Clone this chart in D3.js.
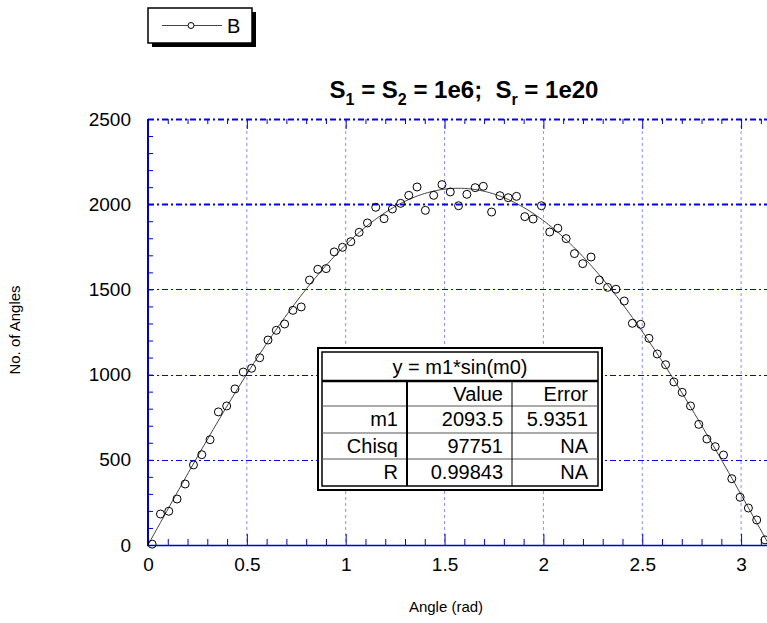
<!DOCTYPE html>
<html>
<head>
<meta charset="utf-8">
<script src="https://cdn.jsdelivr.net/npm/d3@7"></script>
<style>
  body { margin: 0; background: #fff; }
  svg { display: block; font-family: "Liberation Sans", Arial, sans-serif; }
</style>
</head>
<body>
<svg width="767" height="623"></svg>
<script>
// bin centres (rad) and counts
var angles = [0.021, 0.063, 0.105, 0.147, 0.188, 0.230, 0.272, 0.314, 0.356, 0.398,
  0.440, 0.482, 0.524, 0.565, 0.607, 0.649, 0.691, 0.733, 0.775, 0.817,
  0.859, 0.901, 0.942, 0.984, 1.026, 1.068, 1.110, 1.152, 1.194, 1.236,
  1.278, 1.319, 1.361, 1.403, 1.445, 1.487, 1.529, 1.571, 1.613, 1.655,
  1.696, 1.738, 1.780, 1.822, 1.864, 1.906, 1.948, 1.990, 2.032, 2.073,
  2.115, 2.157, 2.199, 2.241, 2.283, 2.325, 2.367, 2.409, 2.450, 2.492,
  2.534, 2.576, 2.618, 2.660, 2.702, 2.744, 2.786, 2.827, 2.869, 2.911,
  2.953, 2.995, 3.037, 3.079, 3.121];
var counts = [5, 182, 198, 270, 358, 470, 530, 618, 781, 816,
  916, 1015, 1037, 1099, 1203, 1260, 1297, 1377, 1397, 1555,
  1618, 1622, 1720, 1747, 1780, 1835, 1890, 1982, 1915, 1972,
  2005, 2052, 2101, 1964, 2052, 2115, 2072, 1991, 2058, 2097,
  2105, 1954, 2050, 2038, 2046, 1927, 1913, 1991, 1837, 1859,
  1798, 1710, 1651, 1690, 1555, 1512, 1501, 1432, 1301, 1295,
  1213, 1121, 1058, 957, 896, 816, 708, 622, 577, 528,
  389, 280, 217, 147, 30];

var xTicks = [0, 0.5, 1, 1.5, 2, 2.5, 3];
var yTicks = [0, 500, 1000, 1500, 2000, 2500];

// fit result y = m1*sin(m0)
var m1 = 2093.5;
var fitRows = [
  ["", "Value", "Error"],
  ["m1", "2093.5", "5.9351"],
  ["Chisq", "97751", "NA"],
  ["R", "0.99843", "NA"]
];

var blue = "#0000cc";
var svg = d3.select("svg");

var x = d3.scaleLinear().domain([0, Math.PI]).range([148, 148 + Math.PI * 197.7]);
var y = d3.scaleLinear().domain([0, 2500]).range([545, 119]);

var minorX = d3.range(0, 32).map(d => d / 10);
var minorY = d3.range(0, 26).map(d => d * 100);
var isMajor = d => Math.abs(d * 2 - Math.round(d * 2)) < 1e-9;

// grid
svg.append("g").selectAll("line")
  .data(xTicks.slice(1))
  .enter().append("line")
    .attr("x1", d => x(d)).attr("x2", d => x(d))
    .attr("y1", y(2500)).attr("y2", y(0))
    .attr("stroke", "#8c8cff").attr("stroke-width", 1)
    .attr("stroke-dasharray", "3,3");

svg.append("g").selectAll("line")
  .data(yTicks.slice(1))
  .enter().append("line")
    .attr("x1", x(0)).attr("x2", 767)
    .attr("y1", d => Math.round(y(d)) + 0.5).attr("y2", d => Math.round(y(d)) + 0.5)
    .attr("stroke", "#0000ee")
    .attr("stroke-width", d => d >= 2000 ? 2 : 1)
    .attr("stroke-dasharray", "6,3,2,3");

// minor / major ticks, inside the frame
svg.append("g").attr("transform", "translate(0,545)")
  .call(d3.axisTop(x).tickValues(minorX).tickSize(6).tickFormat(""))
  .call(g => g.select(".domain").remove())
  .call(g => g.selectAll("line").attr("stroke", blue)
    .attr("y2", d => isMajor(d) ? -11 : -6));

svg.append("g").attr("transform", "translate(0,119)")
  .call(d3.axisBottom(x).tickValues(minorX).tickSize(5).tickFormat(""))
  .call(g => g.select(".domain").remove())
  .call(g => g.selectAll("line").attr("stroke", blue)
    .attr("y2", d => isMajor(d) ? 10 : 5));

svg.append("g").attr("transform", "translate(148,0)")
  .call(d3.axisRight(y).tickValues(minorY).tickSize(5).tickFormat(""))
  .call(g => g.select(".domain").remove())
  .call(g => g.selectAll("line").attr("stroke", blue));

// axis lines
svg.append("line").attr("x1", 148).attr("x2", 148).attr("y1", 119).attr("y2", 546)
  .attr("stroke", blue).attr("stroke-width", 2);
svg.append("line").attr("x1", 147).attr("x2", 767).attr("y1", 545.5).attr("y2", 545.5)
  .attr("stroke", blue).attr("stroke-width", 1.5);

// labels
svg.append("g").attr("transform", "translate(0,545)")
  .call(d3.axisBottom(x).tickValues(xTicks).tickSize(0).tickPadding(13).tickFormat(d3.format("")))
  .call(g => g.select(".domain").remove())
  .call(g => g.selectAll("text").attr("fill", "#000")
    .style("font-size", "19px").style("font-family", "Liberation Sans, Arial, sans-serif"));

svg.append("g").attr("transform", "translate(148,0)")
  .call(d3.axisLeft(y).tickValues(yTicks).tickSize(0).tickPadding(17).tickFormat(d3.format("d")))
  .call(g => g.select(".domain").remove())
  .call(g => g.selectAll("text").attr("fill", "#000")
    .style("font-size", "19px").style("font-family", "Liberation Sans, Arial, sans-serif"));

svg.append("text").attr("x", 446).attr("y", 612).attr("text-anchor", "middle")
  .style("font-size", "15px").text("Angle (rad)");
svg.append("text").attr("transform", "translate(20,330) rotate(-90)")
  .attr("text-anchor", "middle").style("font-size", "15px").text("No. of Angles");

// title
var title = svg.append("text").attr("x", 464).attr("y", 98).attr("text-anchor", "middle")
  .style("font-size", "24px").style("font-weight", "bold");
title.append("tspan").text("S");
title.append("tspan").attr("dy", 7).style("font-size", "16px").text("1");
title.append("tspan").attr("dy", -7).text(" = S");
title.append("tspan").attr("dy", 7).style("font-size", "16px").text("2");
title.append("tspan").attr("dy", -7).text(" = 1e6;\u00a0 S");
title.append("tspan").attr("dy", 7).style("font-size", "16px").text("r");
title.append("tspan").attr("dy", -7).text(" = 1e20");

// fit curve
var curveX = d3.range(0, 201).map(i => i * Math.PI / 200);
svg.append("path")
  .datum(curveX)
  .attr("fill", "none").attr("stroke", "#444").attr("stroke-width", 1)
  .attr("d", d3.line().x(d => x(d)).y(d => y(m1 * Math.sin(d))));

// data points
svg.append("g").selectAll("circle")
  .data(angles)
  .enter().append("circle")
    .attr("cx", d => x(d))
    .attr("cy", (d, i) => y(counts[i]))
    .attr("r", 4)
    .attr("fill", "none").attr("stroke", "#000").attr("stroke-width", 1);

// fit table
var tbl = svg.append("g");
tbl.append("rect").attr("x", 318).attr("y", 348).attr("width", 284).attr("height", 142)
  .attr("fill", "#fff").attr("stroke", "#000").attr("stroke-width", 2);
tbl.append("rect").attr("x", 322).attr("y", 352).attr("width", 276).attr("height", 134)
  .attr("fill", "none").attr("stroke", "#000").attr("stroke-width", 1.5);
var rowY = [381, 406, 433, 459];
tbl.selectAll(".rl").data(rowY).enter().append("line")
  .attr("x1", 322).attr("x2", 598)
  .attr("y1", d => d).attr("y2", d => d)
  .attr("stroke", (d, i) => i === 0 ? "#000" : "#555")
  .attr("stroke-width", (d, i) => i === 0 ? 2.5 : 1);
tbl.append("line").attr("x1", 407).attr("x2", 407).attr("y1", 381).attr("y2", 486)
  .attr("stroke", "#000").attr("stroke-width", 2);
tbl.append("line").attr("x1", 512).attr("x2", 512).attr("y1", 381).attr("y2", 486)
  .attr("stroke", "#000").attr("stroke-width", 1);
tbl.append("text").attr("x", 460).attr("y", 374).attr("text-anchor", "middle")
  .style("font-size", "20px").text("y = m1*sin(m0)");
var colRight = [398, 503, 588];
fitRows.forEach(function (row, r) {
  row.forEach(function (cell, c) {
    tbl.append("text").attr("x", colRight[c]).attr("y", rowY[r] + 20)
      .attr("text-anchor", "end").style("font-size", "20px").text(cell);
  });
});

// legend
var leg = svg.append("g");
leg.append("rect").attr("x", 152).attr("y", 12).attr("width", 104).attr("height", 35).attr("fill", "#000");
leg.append("rect").attr("x", 148).attr("y", 8).attr("width", 104).attr("height", 35)
  .attr("fill", "#fff").attr("stroke", "#000").attr("stroke-width", 1.5);
leg.append("line").attr("x1", 162).attr("x2", 222).attr("y1", 25.5).attr("y2", 25.5)
  .attr("stroke", "#444").attr("stroke-width", 1);
leg.append("circle").attr("cx", 191).attr("cy", 25.5).attr("r", 3)
  .attr("fill", "#fff").attr("stroke", "#000");
leg.append("text").attr("x", 227).attr("y", 33).style("font-size", "20px").text("B");
</script>
</body>
</html>
